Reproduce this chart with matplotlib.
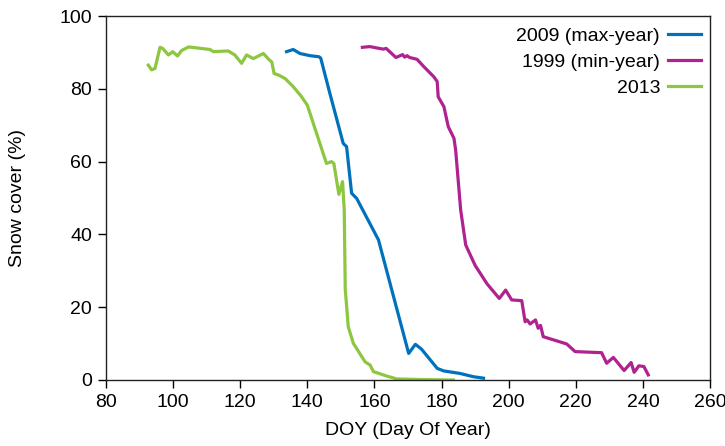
import matplotlib
matplotlib.use("Agg")
import matplotlib.pyplot as plt

plt.rcParams['font.family'] = ['Liberation Sans', 'DejaVu Sans']

# 2009 (max-year)
doy_2009 = [133.8, 135.8, 137.8, 140.8, 143.5, 144.0, 146.7, 150.7, 151.7, 153.2,
            154.7, 161.2, 170.2, 172.2, 174.0, 178.7, 180.6, 185.5, 189.5, 192.5]
snow_2009 = [90.2, 90.8, 89.7, 89.1, 88.8, 88.4, 78.8, 65.0, 64.1, 51.3,
             49.9, 38.5, 7.3, 9.8, 8.5, 3.2, 2.5, 1.8, 0.9, 0.5]

# 1999 (min-year)
doy_1999 = [156.4, 158.6, 162.6, 163.5, 166.4, 168.4, 169.0, 169.7, 170.5, 172.7,
            174.7, 177.7, 178.7, 179.0, 180.7, 182.0, 183.7, 184.2, 185.7, 187.2,
            190.0, 193.5, 197.2, 199.1, 200.9, 203.9, 204.9, 205.5, 206.4, 208.0,
            208.8, 209.5, 210.3, 217.3, 219.8, 227.7, 229.2, 231.2, 234.4, 236.5,
            237.4, 238.8, 240.3, 241.6]
snow_1999 = [91.4, 91.6, 90.9, 91.1, 88.6, 89.4, 88.7, 89.1, 88.6, 88.1,
             86.1, 83.3, 82.0, 77.8, 75.1, 69.6, 66.4, 63.2, 46.7, 37.1,
             31.5, 26.5, 22.4, 24.7, 22.0, 21.8, 16.0, 16.5, 15.4, 16.5,
             14.2, 15.0, 11.9, 9.9, 7.8, 7.5, 4.6, 6.2, 2.6, 4.8,
             2.1, 3.9, 3.7, 1.4]

# 2013
doy_2013 = [92.6, 93.6, 94.6, 96.1, 96.9, 98.6, 99.9, 101.3, 102.5, 104.6,
            106.5, 111.0, 112.0, 116.4, 118.4, 120.4, 121.9, 123.9, 126.9, 128.7,
            129.4, 130.1, 131.4, 133.4, 135.8, 138.3, 140.0, 145.7, 147.2, 147.9,
            149.4, 150.5, 151.0, 151.3, 152.2, 153.7, 157.2, 158.7, 159.7, 163.6,
            166.6, 175.0, 183.5]
snow_2013 = [86.5, 85.2, 85.6, 91.4, 91.1, 89.3, 90.2, 89.0, 90.5, 91.5,
             91.3, 90.8, 90.2, 90.4, 89.3, 87.0, 89.3, 88.3, 89.7, 87.9,
             87.4, 84.2, 83.8, 82.8, 80.6, 77.8, 75.5, 59.5, 60.0, 59.5,
             51.0, 54.5, 46.7, 25.0, 14.6, 10.1, 5.0, 4.1, 2.3, 1.1,
             0.3, 0.1, 0.0]

fig = plt.figure(figsize=(7.25, 4.46), dpi=100)
ax = fig.add_axes([0.1462, 0.148, 0.8331, 0.8161])

lw = 2.3
ax.plot(doy_2009, snow_2009, color="#0072BC", lw=lw, label="2009 (max-year)")
ax.plot(doy_1999, snow_1999, color="#B0228F", lw=lw, label="1999 (min-year)")
ax.plot(doy_2013, snow_2013, color="#8DC63F", lw=lw, label="2013")

ax.set_xlim(80, 260)
ax.set_ylim(0, 100)
ax.set_xticks(range(80, 261, 20))
ax.set_yticks(range(0, 101, 20))
ax.tick_params(direction="out", length=6, width=1, labelsize=14, pad=4)
for s in ax.spines.values():
    s.set_linewidth(1)
    s.set_color("#222222")

ax.set_xlabel("DOY (Day Of Year)", fontsize=14, labelpad=8)
ax.set_ylabel("Snow cover (%)", fontsize=14, labelpad=24)

ax.legend(loc="upper right", bbox_to_anchor=(1.0, 0.992), frameon=False,
          markerfirst=False, fontsize=14, handlelength=1.7, handletextpad=0.42,
          labelspacing=0.42, borderaxespad=0.05)

fig.savefig("out.png", dpi=100)
